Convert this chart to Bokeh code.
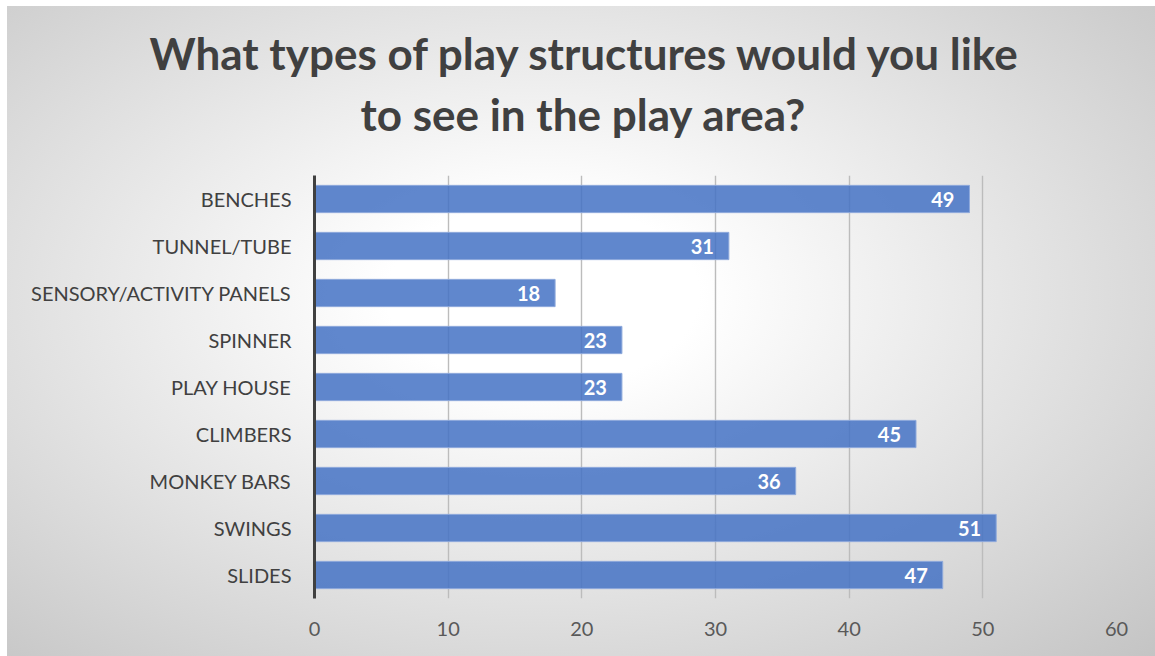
from bokeh.plotting import figure
from bokeh.models import Range1d, FactorRange, ColumnDataSource, Title, FixedTicker
from bokeh.core.properties import value
from bokeh.embed import file_html
from bokeh.resources import INLINE

# ---- data ----
categories = ["BENCHES", "TUNNEL/TUBE", "SENSORY/ACTIVITY PANELS", "SPINNER",
              "PLAY HOUSE", "CLIMBERS", "MONKEY BARS", "SWINGS", "SLIDES"]
counts = [49, 31, 18, 23, 23, 45, 36, 51, 47]
x_ticks = [0, 10, 20, 30, 40, 50, 60]
title_line1 = "What types of play structures would you like"
title_line2 = "to see in the play area?"

source = ColumnDataSource(dict(cat=categories, val=counts,
                               lab=[str(v) for v in counts]))

p = figure(width=1155, height=656, output_backend="svg", toolbar_location=None,
           y_range=FactorRange(factors=list(reversed(categories))),
           x_range=Range1d(0, 60),
           min_border_left=314, min_border_right=39,
           min_border_top=175, min_border_bottom=58)
p.title.visible = False

p.styles = {"background":
            "linear-gradient(#ffffff,#ffffff) top left / 100% 6px no-repeat, "
            "linear-gradient(#ffffff,#ffffff) top left / 7px 100% no-repeat, "
            "radial-gradient(ellipse farthest-corner at 47% 45%, "
            "#ffffff 0%, #ffffff 18%, #c4c4c4 100%)"}
p.background_fill_alpha = 0
p.border_fill_alpha = 0
p.outline_line_color = None

# titles (later added -> further from frame)
spacer = Title(text=" ", text_font_size="1px", standoff=28)
t2 = Title(text=title_line2, align="left", offset=46, standoff=10,
           text_font="Lato", text_font_style="bold", text_font_size="44px",
           text_color="#404040")
t1 = Title(text=title_line1, align="left", offset=-165, standoff=4,
           text_font="Lato", text_font_style="bold", text_font_size="44px",
           text_color="#404040")
p.add_layout(spacer, "above")
p.add_layout(t2, "above")
p.add_layout(t1, "above")

p.hbar(y="cat", right="val", left=0, height=0.58, source=source,
       fill_color="#4472C4", fill_alpha=0.85, line_color="#8faadc", line_width=1)

p.text(x="val", y="cat", text="lab", source=source, text_align="right",
       text_baseline="middle", x_offset=-15, text_color="white",
       text_font=value("Lato"), text_font_style="bold", text_font_size="20px")

# axes
p.xaxis.ticker = FixedTicker(ticks=x_ticks)
p.xaxis.axis_line_color = None
p.xaxis.major_tick_line_color = None
p.xaxis.minor_tick_line_color = None
p.xaxis.major_label_text_font = "Lato"
p.xaxis.major_label_text_font_size = "20px"
p.xaxis.major_label_text_color = "#595959"
p.xaxis.major_label_standoff = 17

p.yaxis.axis_line_color = "#404040"
p.yaxis.axis_line_width = 3
p.yaxis.major_tick_line_color = None
p.yaxis.minor_tick_line_color = None
p.yaxis.major_label_text_font = "Lato"
p.yaxis.major_label_text_font_size = "20px"
p.yaxis.major_label_text_color = "#404040"
p.yaxis.major_label_standoff = 17

p.xgrid.grid_line_color = "#bcbcbc"
p.xgrid.grid_line_width = 1.4
p.ygrid.grid_line_color = None

open("out.html", "w").write(file_html(p, INLINE))
